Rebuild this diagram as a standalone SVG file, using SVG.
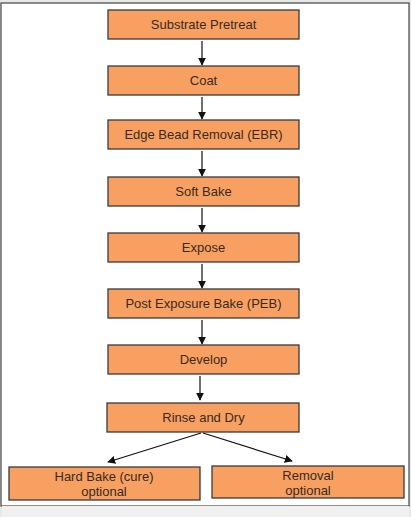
<svg xmlns="http://www.w3.org/2000/svg" width="411" height="517" viewBox="0 0 411 517">
<defs>
<style>
.box{fill:#F7A062;stroke:#3a3a3a;stroke-width:1.3}
.t{font-family:"Liberation Sans",Arial,sans-serif;font-size:13px;fill:#3a2a20;text-anchor:middle}
.c{stroke:#111;stroke-width:1.2;fill:none}
</style>
<marker id="ah" viewBox="0 0 10 10" refX="9" refY="5" markerWidth="8" markerHeight="8" markerUnits="userSpaceOnUse" orient="auto">
<path d="M0,0 L10,5 L0,10 z" fill="#111"/>
</marker>
</defs>
<rect x="0" y="0" width="411" height="517" fill="#e8e8e8"/>
<rect x="1" y="3" width="408" height="503" fill="#ffffff" stroke="#444" stroke-width="1.2"/>
<rect x="2" y="506" width="407" height="11" fill="#f0f0f0"/>
<g id="n1"><rect class="box" x="108" y="10" width="191" height="29"/><text class="t" x="203.5" y="29">Substrate Pretreat</text></g>
<g id="n2"><rect class="box" x="108" y="66" width="191" height="29"/><text class="t" x="203.5" y="85">Coat</text></g>
<g id="n3"><rect class="box" x="108" y="120" width="191" height="29"/><text class="t" x="203.5" y="139">Edge Bead Removal (EBR)</text></g>
<g id="n4"><rect class="box" x="108" y="177" width="191" height="29"/><text class="t" x="203.5" y="196">Soft Bake</text></g>
<g id="n5"><rect class="box" x="108" y="233" width="191" height="29"/><text class="t" x="203.5" y="252">Expose</text></g>
<g id="n6"><rect class="box" x="108" y="289" width="191" height="29"/><text class="t" x="203.5" y="308">Post Exposure Bake (PEB)</text></g>
<g id="n7"><rect class="box" x="108" y="345" width="191" height="29"/><text class="t" x="203.5" y="364">Develop</text></g>
<g id="n8"><rect class="box" x="107" y="403" width="192" height="29"/><text class="t" x="203.5" y="422">Rinse and Dry</text></g>
<g id="n9"><rect class="box" x="9" y="467" width="191" height="33"/><text class="t" x="104" y="481">Hard Bake (cure)</text><text class="t" x="104" y="496">optional</text></g>
<g id="n10"><rect class="box" x="212" y="466" width="192" height="32"/><text class="t" x="308" y="480">Removal</text><text class="t" x="308" y="495">optional</text></g>
<g id="connectors">
<line class="c" x1="202" y1="41" x2="202" y2="65" marker-end="url(#ah)"/>
<line class="c" x1="202" y1="97" x2="202" y2="119" marker-end="url(#ah)"/>
<line class="c" x1="202" y1="151" x2="202" y2="176" marker-end="url(#ah)"/>
<line class="c" x1="202" y1="208" x2="202" y2="232" marker-end="url(#ah)"/>
<line class="c" x1="202" y1="264" x2="202" y2="288" marker-end="url(#ah)"/>
<line class="c" x1="202" y1="320" x2="202" y2="344" marker-end="url(#ah)"/>
<line class="c" x1="200" y1="376" x2="200" y2="400" marker-end="url(#ah)"/>
<line class="c" x1="201" y1="433" x2="108" y2="462" marker-end="url(#ah)"/>
<line class="c" x1="203" y1="433" x2="292" y2="461" marker-end="url(#ah)"/>
</g>
</svg>
